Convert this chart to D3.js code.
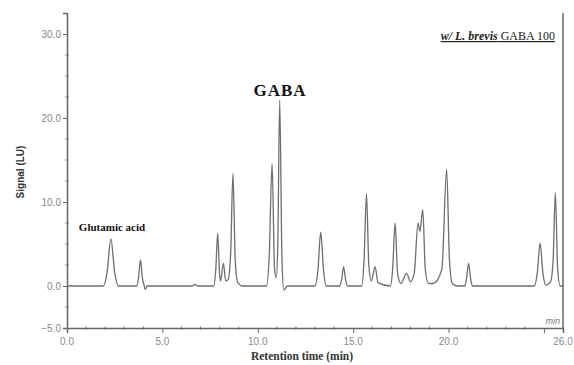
<!DOCTYPE html>
<html>
<head>
<meta charset="utf-8">
<script src="https://cdn.jsdelivr.net/npm/d3@7"></script>
<style>
  body { margin: 0; background: #fff; }
  .tick text { font-family: "Liberation Sans", Arial, sans-serif; font-size: 10px; fill: #8a8a8a; }
</style>
</head>
<body>
<div id="chart"></div>
<script>
var W = 574, H = 365;
var margin = { top: 13, right: 11, bottom: 37, left: 67 };

// chromatogram trace (time in min, signal in LU)
var traceTime = [0, 1.9, 2.1, 2.3, 2.5, 2.7, 3.65, 3.75, 3.85, 3.95, 4.05, 4.1, 4.2,
  6.55, 6.7, 6.85, 7.7, 7.8, 7.9, 8.0, 8.05, 8.2, 8.32, 8.45, 8.58, 8.7, 8.82, 8.95, 9.2,
  10.45, 10.6, 10.75, 10.88, 10.97, 11.05, 11.15, 11.27, 11.37, 11.55,
  13.0, 13.15, 13.3, 13.45, 13.6, 14.3, 14.4, 14.5, 14.6, 14.7,
  15.45, 15.57, 15.7, 15.82, 15.95, 16.15, 16.3, 16.95, 17.07, 17.2, 17.33, 17.5, 17.8, 18.0,
  18.2, 18.4, 18.5, 18.65, 18.78, 18.95, 19.2, 19.65, 19.9, 20.05, 20.2, 20.45,
  20.85, 20.95, 21.05, 21.15, 21.25, 24.5, 24.65, 24.8, 24.95, 25.1, 25.35, 25.48, 25.6, 25.72, 25.85, 26];
var traceSignal = [0, 0, 1.6, 5.6, 1.6, 0, 0, 1.0, 3.1, 1.0, 0, -0.4, 0,
  0, 0.2, 0, 0, 2.0, 6.3, 1.3, 0.6, 2.7, 0.6, 0.8, 4.0, 13.4, 3.0, 0.4, 0,
  0, 3.5, 14.6, 2.0, 1.0, 5.0, 22.1, 3.0, -0.5, 0,
  0, 1.8, 6.4, 1.8, 0, 0, 0.8, 2.3, 0.8, 0,
  0, 3.0, 11.0, 2.5, 0.6, 2.3, 0.4, 0, 2.0, 7.5, 1.5, 0.3, 1.5, 0.5,
  1.5, 7.5, 6.5, 9.1, 2.0, 0.3, 0.3, 2.0, 13.9, 3.0, 0.3, 0,
  0, 1.0, 2.7, 1.0, 0, 0, 1.5, 5.1, 1.5, 0.1, 0.5, 3.0, 11.1, 2.0, 0, 0];

var xMajor = [0, 5, 10, 15, 20, 25];
var xLabels = [0, 5, 10, 15, 20, 26];
var yMajor = [-5, 0, 10, 20, 30];

var svg = d3.select("#chart").append("svg")
  .attr("width", W)
  .attr("height", H);

var x = d3.scaleLinear().domain([0, 26]).range([margin.left, W - margin.right]);
var y = d3.scaleLinear().domain([-5, 32.5]).range([H - margin.bottom, margin.top]);

var axisColor = "#666";

// minor ticks
var xMinor = d3.range(1, 26, 1).filter(function(d) { return d % 5 != 0; });
svg.selectAll(".xminor").data(xMinor).enter().append("line")
  .attr("x1", function(d) { return x(d); })
  .attr("x2", function(d) { return x(d); })
  .attr("y1", y(-5) - 2).attr("y2", y(-5) + 2)
  .attr("stroke", "#999").attr("stroke-width", 1);
var yMinor = d3.range(-2.5, 32.5, 2.5).filter(function(d) { return d % 10 != 0; });
svg.selectAll(".yminor").data(yMinor).enter().append("line")
  .attr("y1", function(d) { return y(d); })
  .attr("y2", function(d) { return y(d); })
  .attr("x1", x(0) - 2).attr("x2", x(0) + 2)
  .attr("stroke", "#999").attr("stroke-width", 1);

var xAxis = d3.axisBottom(x).tickValues(xMajor).tickSize(5).tickFormat("");
svg.append("g")
  .attr("transform", "translate(0," + y(-5) + ")")
  .call(xAxis)
  .call(function(g) {
    g.select(".domain").attr("stroke", axisColor).attr("stroke-width", 1.5);
    g.selectAll(".tick line").attr("stroke", axisColor);
  });
svg.append("g")
  .selectAll("text").data(xLabels).enter().append("text")
  .attr("x", function(d) { return x(d); })
  .attr("y", y(-5) + 17)
  .attr("text-anchor", "middle")
  .attr("font-family", "Liberation Sans, Arial, sans-serif")
  .attr("font-size", 10)
  .attr("fill", "#8a8a8a")
  .text(function(d) { return d3.format(".1f")(d); });

var yAxis = d3.axisLeft(y).tickValues(yMajor).tickSize(4).tickPadding(2).tickFormat(d3.format(".1f"));
svg.append("g")
  .attr("transform", "translate(" + x(0) + ",0)")
  .call(yAxis)
  .call(function(g) {
    g.select(".domain").attr("stroke", axisColor).attr("stroke-width", 1.5);
    g.selectAll(".tick line").attr("stroke", axisColor);
  });

// right border
svg.append("line")
  .attr("x1", x(26)).attr("x2", x(26))
  .attr("y1", y(32.5)).attr("y2", y(-5))
  .attr("stroke", axisColor).attr("stroke-width", 1.5);

// trace
var pts = traceTime.map(function(t, i) { return [t, traceSignal[i]]; });
var line = d3.line()
  .x(function(d) { return x(d[0]); })
  .y(function(d) { return y(d[1]); })
  .curve(d3.curveMonotoneX);
svg.append("path")
  .datum(pts)
  .attr("d", line)
  .attr("fill", "none")
  .attr("stroke", "#6e6e6e")
  .attr("stroke-width", 1.3);

// labels
svg.append("text")
  .attr("transform", "translate(24,172)rotate(-90)")
  .attr("text-anchor", "middle")
  .attr("font-family", "Liberation Sans, Arial, sans-serif")
  .attr("font-weight", "bold")
  .attr("font-size", 10)
  .attr("fill", "#333")
  .text("Signal (LU)");
svg.append("text")
  .attr("x", 302)
  .attr("y", 360)
  .attr("text-anchor", "middle")
  .attr("font-family", "Liberation Serif, Times New Roman, serif")
  .attr("font-weight", "bold")
  .attr("font-size", 11.5)
  .attr("fill", "#333")
  .text("Retention time (min)");
svg.append("text")
  .attr("x", 280)
  .attr("y", 96)
  .attr("text-anchor", "middle")
  .attr("font-family", "Liberation Serif, Times New Roman, serif")
  .attr("font-weight", "bold")
  .attr("font-size", 17)
  .attr("letter-spacing", 1)
  .attr("fill", "#111")
  .text("GABA");
svg.append("text")
  .attr("x", 112)
  .attr("y", 231)
  .attr("text-anchor", "middle")
  .attr("font-family", "Liberation Serif, Times New Roman, serif")
  .attr("font-weight", "bold")
  .attr("font-size", 11)
  .attr("fill", "#111")
  .text("Glutamic acid");
var sample = svg.append("text")
  .attr("x", 555)
  .attr("y", 40)
  .attr("text-anchor", "end")
  .attr("font-family", "Liberation Serif, Times New Roman, serif")
  .attr("font-size", 12)
  .attr("fill", "#222")
  .attr("text-decoration", "underline");
sample.append("tspan").attr("font-style", "italic").attr("font-weight", "bold").text("w/ L. brevis");
sample.append("tspan").text(" GABA 100");
svg.append("text")
  .attr("x", 560)
  .attr("y", 324)
  .attr("text-anchor", "end")
  .attr("font-family", "Liberation Sans, Arial, sans-serif")
  .attr("font-style", "italic")
  .attr("font-size", 9)
  .attr("fill", "#777")
  .text("min");
</script>
</body>
</html>
